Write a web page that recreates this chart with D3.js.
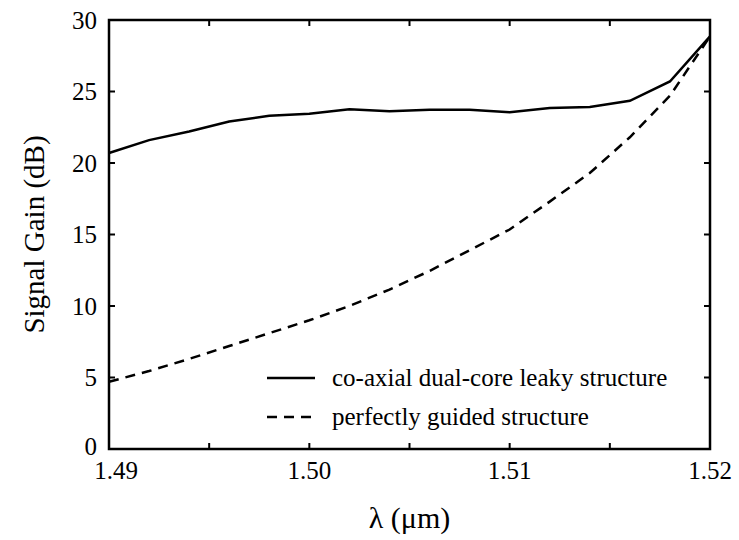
<!DOCTYPE html>
<html>
<head>
<meta charset="utf-8">
<script src="https://cdn.jsdelivr.net/npm/d3@7"></script>
<style>
  svg text { font-family: "Liberation Serif", "Times New Roman", Times, serif; }
</style>
</head>
<body style="margin:0">
<script>
// wavelength samples (um)
var wavelengths = [1.490, 1.492, 1.494, 1.496, 1.498, 1.500, 1.502, 1.504,
                   1.506, 1.508, 1.510, 1.512, 1.514, 1.516, 1.518, 1.520];
// co-axial dual-core leaky structure gain (dB)
var leakyGain = [20.7, 21.6, 22.2, 22.9, 23.3, 23.45, 23.75, 23.62,
                 23.72, 23.72, 23.55, 23.85, 23.92, 24.35, 25.7, 28.85];
// perfectly guided structure gain (dB)
var guidedGain = [4.7, 5.45, 6.3, 7.2, 8.1, 9.0, 10.0, 11.15,
                  12.45, 13.9, 15.35, 17.3, 19.3, 21.8, 24.7, 28.85];

var xTicks = [1.49, 1.495, 1.50, 1.505, 1.51, 1.515, 1.52];
var xLabels = [1.49, 1.50, 1.51, 1.52];
var yTicks = [0, 5, 10, 15, 20, 25, 30];
var seriesNames = ["co-axial dual-core leaky structure", "perfectly guided structure"];

var width = 739, height = 540;
var margin = {left: 109, right: 29, top: 20, bottom: 91};

var svg = d3.select("body").append("svg").attr("width", width).attr("height", height);

var x = d3.scaleLinear().domain([1.49, 1.52]).range([margin.left, width - margin.right]);
var y = d3.scaleLinear().domain([0, 30]).range([height - margin.bottom, margin.top]);

var x0 = x.range()[0], x1 = x.range()[1], y0 = y.range()[0], y1 = y.range()[1];

// ticks pointing inward on all four sides
var tickLen = 6;
var g = svg.append("g").attr("stroke", "#000").attr("stroke-width", 2);
xTicks.forEach(function(t){
  g.append("line").attr("x1", x(t)).attr("x2", x(t)).attr("y1", y0).attr("y2", y0 - tickLen);
  g.append("line").attr("x1", x(t)).attr("x2", x(t)).attr("y1", y1).attr("y2", y1 + tickLen);
});
yTicks.forEach(function(t){
  g.append("line").attr("x1", x0).attr("x2", x0 + tickLen).attr("y1", y(t)).attr("y2", y(t));
  g.append("line").attr("x1", x1).attr("x2", x1 - tickLen).attr("y1", y(t)).attr("y2", y(t));
});

// tick labels (first one nudged right like the original)
svg.selectAll("text.xl")
  .data(xLabels)
  .enter().append("text")
    .attr("class", "xl")
    .attr("x", function(d,i){ return x(d) + (i == 0 ? 7 : 0); })
    .attr("y", y0 + 30)
    .attr("text-anchor", "middle")
    .attr("font-size", 25)
    .text(function(d){ return d3.format(".2f")(d); });

svg.selectAll("text.yl")
  .data(yTicks)
  .enter().append("text")
    .attr("class", "yl")
    .attr("x", x0 - 12)
    .attr("y", function(d,i){ return y(d) - (i == 0 ? 3 : 0); })
    .attr("dy", "0.34em")
    .attr("text-anchor", "end")
    .attr("font-size", 25)
    .text(function(d){ return d; });

// axis titles
svg.append("text")
  .attr("transform", "translate(44," + ((y0 + y1) / 2) + ") rotate(-90)")
  .attr("text-anchor", "middle")
  .attr("font-size", 29)
  .text("Signal Gain (dB)");

svg.append("text")
  .attr("x", (x0 + x1) / 2)
  .attr("y", 528)
  .attr("text-anchor", "middle")
  .attr("font-size", 30)
  .text("λ (μm)");

// curves
var line = d3.line()
  .x(function(d){ return x(d[0]); })
  .y(function(d){ return y(d[1]); });

svg.append("path")
  .datum(d3.zip(wavelengths, leakyGain))
  .attr("d", line)
  .attr("fill", "none")
  .attr("stroke", "#000")
  .attr("stroke-width", 2.5);

svg.append("path")
  .datum(d3.zip(wavelengths, guidedGain))
  .attr("d", line)
  .attr("fill", "none")
  .attr("stroke", "#000")
  .attr("stroke-width", 2.5)
  .attr("stroke-dasharray", "10,7");

// frame
svg.append("rect")
  .attr("x", x0).attr("y", y1)
  .attr("width", x1 - x0).attr("height", y0 - y1)
  .attr("fill", "none")
  .attr("stroke", "#000")
  .attr("stroke-width", 2.5);

// legend
var legend = svg.append("g").attr("transform", "translate(267,378)");
legend.selectAll("line")
  .data(seriesNames)
  .enter().append("line")
    .attr("x1", 0).attr("x2", 48)
    .attr("y1", function(d,i){ return i * 39; })
    .attr("y2", function(d,i){ return i * 39; })
    .attr("stroke", "#000")
    .attr("stroke-width", 2.5)
    .attr("stroke-dasharray", function(d,i){ return i ? "10,7" : null; });
legend.selectAll("text")
  .data(seriesNames)
  .enter().append("text")
    .attr("x", 65)
    .attr("y", function(d,i){ return i * 39; })
    .attr("dy", "0.33em")
    .attr("font-size", 25)
    .text(function(d){ return d; });
</script>
</body>
</html>
